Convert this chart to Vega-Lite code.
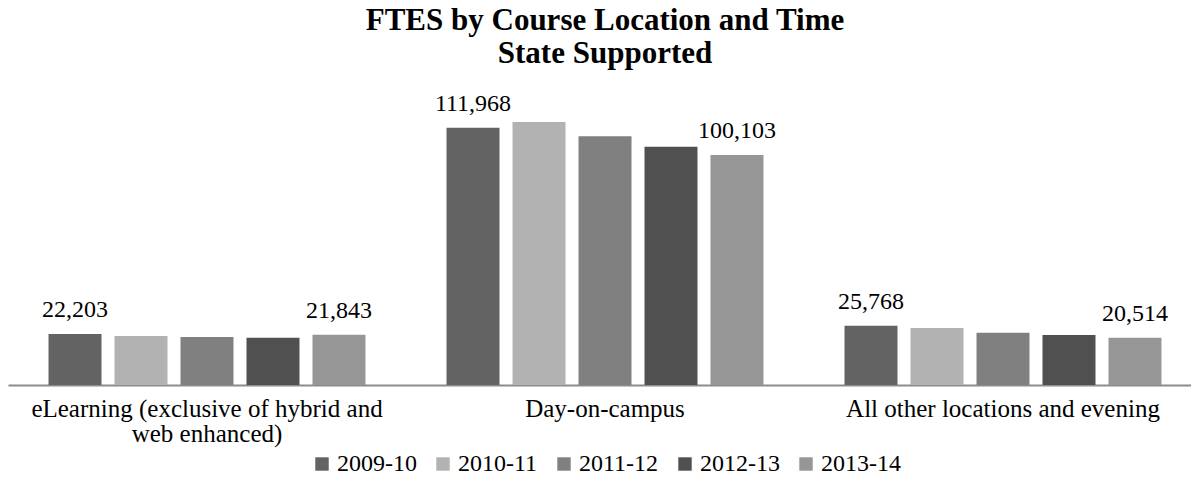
{
  "$schema": "https://vega.github.io/schema/vega-lite/v6.json",
  "width": 1194,
  "height": 310,
  "autosize": "none",
  "padding": {"left": 8, "top": 75, "right": 0, "bottom": 96},
  "background": "white",
  "title": {
    "text": ["FTES by Course Location and Time", "State Supported"],
    "font": "Liberation Serif",
    "fontSize": 31,
    "fontWeight": "bold",
    "color": "black",
    "lineHeight": 33,
    "offset": 5,
    "anchor": "middle"
  },
  "data": {
    "values": [
      {"loc": "eLearning (exclusive of hybrid and web enhanced)", "year": "2009-10", "ftes": 22203},
      {"loc": "eLearning (exclusive of hybrid and web enhanced)", "year": "2010-11", "ftes": 21300},
      {"loc": "eLearning (exclusive of hybrid and web enhanced)", "year": "2011-12", "ftes": 20900},
      {"loc": "eLearning (exclusive of hybrid and web enhanced)", "year": "2012-13", "ftes": 20600},
      {"loc": "eLearning (exclusive of hybrid and web enhanced)", "year": "2013-14", "ftes": 21843},
      {"loc": "Day-on-campus", "year": "2009-10", "ftes": 111968},
      {"loc": "Day-on-campus", "year": "2010-11", "ftes": 114450},
      {"loc": "Day-on-campus", "year": "2011-12", "ftes": 108230},
      {"loc": "Day-on-campus", "year": "2012-13", "ftes": 103700},
      {"loc": "Day-on-campus", "year": "2013-14", "ftes": 100103},
      {"loc": "All other locations and evening", "year": "2009-10", "ftes": 25768},
      {"loc": "All other locations and evening", "year": "2010-11", "ftes": 24800},
      {"loc": "All other locations and evening", "year": "2011-12", "ftes": 22760},
      {"loc": "All other locations and evening", "year": "2012-13", "ftes": 21760},
      {"loc": "All other locations and evening", "year": "2013-14", "ftes": 20514}
    ]
  },
  "encoding": {
    "x": {
      "field": "loc",
      "type": "nominal",
      "sort": null,
      "scale": {"paddingInner": 0, "paddingOuter": 0},
      "axis": {
        "title": null,
        "labelAngle": 0,
        "ticks": false,
        "domainColor": "#8c8c8c",
        "domainWidth": 2,
        "labelFont": "Liberation Serif",
        "labelFontSize": 25,
        "labelColor": "black",
        "labelPadding": 11,
        "labelLineHeight": 25,
        "labelLimit": 0,
        "labelExpr": "datum.value == 'eLearning (exclusive of hybrid and web enhanced)' ? ['eLearning (exclusive of hybrid and', 'web enhanced)'] : datum.value"
      }
    },
    "xOffset": {
      "field": "year",
      "type": "nominal",
      "scale": {"paddingInner": 0.197, "paddingOuter": 0.614}
    },
    "y": {
      "field": "ftes",
      "type": "quantitative",
      "scale": {"domain": [0, 134900]},
      "axis": null
    }
  },
  "layer": [
    {
      "mark": {"type": "bar"},
      "encoding": {
        "color": {
          "field": "year",
          "type": "nominal",
          "scale": {
            "domain": ["2009-10", "2010-11", "2011-12", "2012-13", "2013-14"],
            "range": ["#636363", "#b2b2b2", "#808080", "#505050", "#969696"]
          },
          "legend": {
            "title": null,
            "orient": "bottom",
            "direction": "horizontal",
            "symbolType": "square",
            "symbolSize": 180,
            "symbolStrokeWidth": 0,
            "labelFont": "Liberation Serif",
            "labelFontSize": 24,
            "labelColor": "black",
            "columnPadding": 14,
            "labelOffset": 3,
            "offset": 6
          }
        }
      }
    },
    {
      "transform": [{"filter": "datum.year == '2009-10' || datum.year == '2013-14'"}],
      "mark": {
        "type": "text",
        "baseline": "alphabetic",
        "dy": -17,
        "font": "Liberation Serif",
        "fontSize": 24,
        "color": "black"
      },
      "encoding": {
        "text": {"field": "ftes", "type": "quantitative", "format": ","}
      }
    }
  ],
  "config": {
    "view": {"stroke": null},
    "legend": {"layout": {"bottom": {"anchor": "middle"}}}
  }
}
